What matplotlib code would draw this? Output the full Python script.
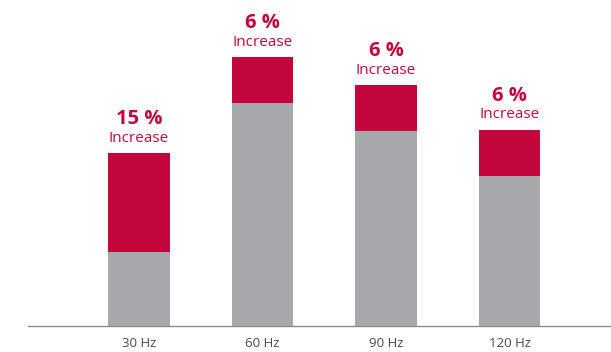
import matplotlib.pyplot as plt

# refresh rates and bar heights (pixel-ish units)
categories = ["30 Hz", "60 Hz", "90 Hz", "120 Hz"]
base_values = [74, 223, 195, 150]
increase_values = [99, 46, 46, 46]
increase_labels = ["15 %", "6 %", "6 %", "6 %"]

red = "#C3073D"
grey = "#A7A8AB"

plt.rcParams["font.family"] = ["Open Sans", "DejaVu Sans"]

fig = plt.figure(figsize=(6.11, 3.52), dpi=100)
ax = fig.add_axes([28 / 611, 26 / 352, 1 - 28 / 611, 326 / 352])

x = range(len(categories))
ax.bar(x, base_values, width=0.5, color=grey)
ax.bar(x, increase_values, width=0.5, bottom=base_values, color=red)

for i, (b, inc, lab) in enumerate(zip(base_values, increase_values, increase_labels)):
    top = b + inc
    ax.annotate("Increase", xy=(i, top), xytext=(0, 15 * 0.72), textcoords="offset points",
                ha="center", va="center", fontsize=11, color=red)
    ax.annotate(lab, xy=(i, top), xytext=(0, 34 * 0.72), textcoords="offset points",
                ha="center", va="center", fontsize=14.5, fontweight="bold", color=red)

ax.set_xlim(-0.899, 3.822)
ax.set_ylim(0, 326)
ax.set_xticks(list(x))
ax.set_xticklabels(categories, fontsize=9.5, color="#4a4a4a")
ax.tick_params(axis="x", length=0, pad=8)
ax.set_yticks([])
for side in ["top", "right", "left"]:
    ax.spines[side].set_visible(False)
ax.spines["bottom"].set_color("#8a8a8a")
ax.spines["bottom"].set_linewidth(1)

fig.savefig("out.png", dpi=100)
